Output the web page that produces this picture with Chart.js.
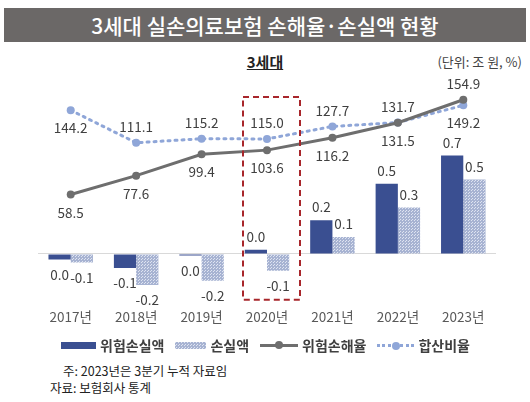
<!DOCTYPE html>
<html>
<head>
<meta charset="utf-8">
<script src="https://cdn.jsdelivr.net/npm/chart.js@4.4.0/dist/chart.umd.min.js"></script>
<style>
  body { margin: 0; width: 530px; height: 402px; background: #fff; position: relative; overflow: hidden;
         font-family: "Noto Sans CJK KR", "Noto Sans", sans-serif; }
  .title { position: absolute; left: 4px; top: 8px; width: 522px; height: 34px; background: #6b6867;
           color: #fff; font-size: 21px; font-weight: 500; line-height: 34px; text-align: center; }
  .sub { position: absolute; left: 0; top: 51px; width: 530px; text-align: center; font-size: 15px;
         font-weight: bold; text-decoration: underline; color: #222; }
  .unit { position: absolute; right: 8px; top: 52px; font-size: 13px; color: #444; }
  #wrap { position: absolute; left: 0; top: 70px; width: 530px; height: 266px; }
  .legend { position: absolute; left: 61px; top: 335px; display: flex; align-items: center;
            font-size: 14px; font-weight: bold; color: #404040; }
  .legend .item { display: flex; align-items: center; margin-right: 11px; }
  .sw { display: inline-block; margin-right: 4px; position: relative; }
  .notes { position: absolute; left: 50px; top: 362px; font-size: 12.5px; color: #222; line-height: 17px; }
</style>
</head>
<body>
<div class="title">3세대 실손의료보험 손해율·손실액 현황</div>
<div class="sub">3세대</div>
<div class="unit">(단위: 조 원, %)</div>
<div id="wrap"><canvas id="chart"></canvas></div>
<div class="legend">
  <div class="item"><span class="sw" style="width:35px;height:7px;background:#3a4f91"></span>위험손실액</div>
  <div class="item"><span class="sw" id="patSw" style="width:31px;height:7px;background:#b3bdd8"></span>손실액</div>
  <div class="item"><span class="sw" style="width:38px;height:3px;background:#6e6e6e">
    <span style="position:absolute;left:15px;top:-3px;width:8px;height:8px;border-radius:50%;background:#6e6e6e"></span></span>위험손해율</div>
  <div class="item"><span class="sw" style="width:37px;height:0;border-top:3px dotted #8fa6d8">
    <span style="position:absolute;left:15px;top:-5px;width:8px;height:8px;border-radius:50%;background:#8fa6d8"></span></span>합산비율</div>
</div>
<div class="notes">
  <div style="padding-left:13px">주: 2023년은 3분기 누적 자료임</div>
  <div>자료: 보험회사 통계</div>
</div>
<script>
const years = ['2017년', '2018년', '2019년', '2020년', '2021년', '2022년', '2023년'];
const riskLoss = [-0.04, -0.10, -0.01, 0.03, 0.24, 0.50, 0.70];    // 위험손실액 (조 원)
const loss = [-0.06, -0.22, -0.19, -0.12, 0.12, 0.33, 0.53];        // 손실액 (조 원)
const riskRatio = [58.5, 77.6, 99.4, 103.6, 116.2, 131.5, 154.9];   // 위험손해율 (%)
const combinedRatio = [144.2, 111.1, 115.2, 115.0, 127.7, 131.7, 149.2]; // 합산비율 (%)

// where each line label sits relative to its point
const riskRatioPos = ['below', 'below', 'below', 'below', 'below', 'below', 'above'];
const combinedPos = ['below', 'above', 'above', 'above', 'above', 'above', 'below'];
const highlightIndex = 3; // 2020년 box

// dotted pattern for 손실액 bars
function makePattern() {
    const c = document.createElement('canvas');
    c.width = 3; c.height = 3;
    const g = c.getContext('2d');
    g.fillStyle = '#a7b3d2';
    g.fillRect(0, 0, 3, 3);
    g.fillStyle = '#dfe4f1';
    g.fillRect(0, 0, 1, 1);
    g.fillRect(1, 2, 1, 1);
    return g.createPattern(c, 'repeat');
}
const lossPattern = makePattern();

function fmt(v, d) {
    let s = v.toFixed(d);
    if (parseFloat(s) === 0) s = (0).toFixed(d);
    return s;
}

const labelPlugin = {
    id: 'valueLabels',
    afterDatasetsDraw(chart) {
        const ctx = chart.ctx;
        ctx.save();
        ctx.font = '13.5px "Noto Sans CJK KR", sans-serif';
        ctx.fillStyle = '#404040';
        ctx.textAlign = 'center';
        ctx.textBaseline = 'middle';
        chart.data.datasets.forEach((ds, di) => {
            const meta = chart.getDatasetMeta(di);
            meta.data.forEach((el, i) => {
                const v = ds.data[i];
                if (ds.type === 'bar') {
                    const y = v >= 0 ? el.y - 13 : el.y + 15;
                    ctx.fillText(fmt(v, 1), el.x, y);
                } else {
                    const pos = ds.labelPos[i];
                    let y = pos === 'above' ? el.y - 16 : el.y + 18;
                    ctx.fillText(fmt(v, 1), el.x, y);
                }
            });
        });
        // dashed highlight box round 2020
        const xs = chart.scales.x;
        const cx = xs.getPixelForValue(highlightIndex);
        const a = chart.chartArea;
        ctx.strokeStyle = '#a8262b';
        ctx.lineWidth = 2;
        ctx.setLineDash([6, 4]);
        ctx.strokeRect(cx - 24, a.top + 13, 57, a.bottom - a.top - 17);
        ctx.restore();
    }
};

new Chart(document.getElementById('chart'), {
    data: {
        labels: years,
        datasets: [
            {
                type: 'line', label: '위험손해율', data: riskRatio, yAxisID: 'yLine',
                borderColor: '#6e6e6e', backgroundColor: '#6e6e6e', borderWidth: 3,
                pointRadius: 4, pointBackgroundColor: '#6e6e6e', pointBorderWidth: 0,
                labelPos: riskRatioPos, order: 1
            },
            {
                type: 'line', label: '합산비율', data: combinedRatio, yAxisID: 'yLine',
                borderColor: '#8fa6d8', backgroundColor: '#8fa6d8', borderWidth: 3,
                borderDash: [2, 5], borderCapStyle: 'round',
                pointRadius: 4, pointBackgroundColor: '#8fa6d8', pointBorderWidth: 0,
                labelPos: combinedPos, order: 2
            },
            {
                type: 'bar', label: '위험손실액', data: riskLoss, yAxisID: 'yBar',
                backgroundColor: '#3a4f91', barPercentage: 1, categoryPercentage: 0.68, order: 3
            },
            {
                type: 'bar', label: '손실액', data: loss, yAxisID: 'yBar',
                backgroundColor: lossPattern, barPercentage: 1, categoryPercentage: 0.68, order: 4
            }
        ]
    },
    options: {
        responsive: true,
        maintainAspectRatio: false,
        animation: false,
        layout: { padding: { left: 38, right: 34, top: 14, bottom: 6 } },
        plugins: { legend: { display: false }, tooltip: { enabled: false } },
        scales: {
            x: {
                grid: { display: false, drawTicks: false },
                border: { display: false },
                ticks: { color: '#595959', padding: 5, font: { size: 13.5, family: '"Noto Sans CJK KR", sans-serif' } }
            },
            yBar: {
                position: 'left',
                min: -0.354, max: 1.208,
                afterBuildTicks: axis => { axis.ticks = [{ value: 0 }]; },
                ticks: { display: false },
                border: { display: false },
                grid: { color: '#d9d9d9', lineWidth: 1, drawTicks: false }
            },
            yLine: {
                display: false,
                min: -52.8, max: 170.9
            }
        }
    },
    plugins: [labelPlugin]
});

// legend swatch uses the same pattern
const sw = document.getElementById('patSw');
const pc = document.createElement('canvas');
pc.width = 31; pc.height = 7;
const pg = pc.getContext('2d');
pg.fillStyle = lossPattern; pg.fillRect(0, 0, 31, 7);
sw.style.background = 'url(' + pc.toDataURL() + ')';
</script>
</body>
</html>
